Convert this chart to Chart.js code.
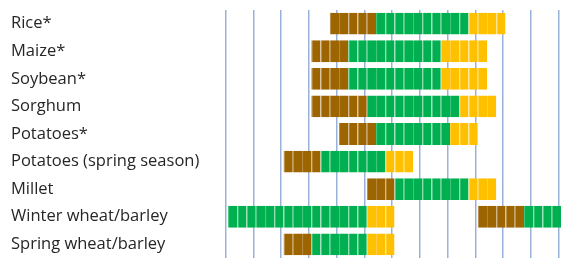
<!DOCTYPE html>
<html>
<head>
<meta charset="utf-8">
<script src="https://cdn.jsdelivr.net/npm/chart.js@4.4.1/dist/chart.umd.min.js"></script>
<style>
  html, body { margin: 0; padding: 0; background: #fff; }
  #wrap { width: 561px; height: 268px; }
</style>
</head>
<body>
<div id="wrap"><canvas id="cal"></canvas></div>
<script>
// crop calendar, in dekads (3 per month, 0 = start of January)
const crops = ['Rice*', 'Maize*', 'Soybean*', 'Sorghum', 'Potatoes*',
    'Potatoes (spring season)', 'Millet', 'Winter wheat/barley', 'Spring wheat/barley'];

// one list of [start, end) ranges per crop
const sowing = [[[11, 16]], [[9, 13]], [[9, 13]], [[9, 15]], [[12, 16]],
    [[6, 10]], [[15, 18]], [[27, 32]], [[6, 9]]];
const growing = [[[16, 26]], [[13, 23]], [[13, 23]], [[15, 25]], [[16, 24]],
    [[10, 17]], [[18, 26]], [[0, 15], [32, 36]], [[9, 15]]];
const harvest = [[[26, 30]], [[23, 28]], [[23, 28]], [[25, 29]], [[24, 27]],
    [[17, 20]], [[26, 29]], [[15, 18]], [[15, 18]]];

const monthCount = 12;
const GRID_SHIFT = -0.27; // month lines sit a little left of dekad edges in the original

// split each range into dekad cells so every dekad gets its own little block
function cells(ranges) {
    const out = [];
    crops.forEach((crop, i) => {
        ranges[i].forEach(([a, b]) => {
            for (let d = a; d < b; d++) out.push({ y: crop, x: [d, d + 1] });
        });
    });
    return out;
}

function stage(label, ranges, fill, line) {
    return {
        label: label,
        data: cells(ranges),
        backgroundColor: fill,
        borderColor: line,
        borderWidth: { left: 1, right: 0, top: 0, bottom: 0 },
        borderSkipped: false,
        grouped: false,
        barPercentage: 0.79,
        categoryPercentage: 1
    };
}

new Chart(document.getElementById('cal'), {
    type: 'bar',
    data: {
        labels: crops,
        datasets: [
            stage('Sowing', sowing, '#9C6500', '#B3843A'),
            stage('Growing', growing, '#00B050', '#3DC57A'),
            stage('Harvest', harvest, '#FFC000', '#FFCF40')
        ]
    },
    options: {
        indexAxis: 'y',
        responsive: true,
        maintainAspectRatio: false,
        animation: false,
        events: [],
        layout: { padding: { left: 11, right: 0, top: 2.7, bottom: 0 } },
        plugins: {
            legend: { display: false },
            tooltip: { enabled: false }
        },
        scales: {
            x: {
                type: 'linear',
                min: -0.35,
                max: 36,
                z: 1,
                afterBuildTicks: (scale) => {
                    const t = [];
                    for (let m = 0; m <= monthCount; m++) t.push({ value: m * 3 + GRID_SHIFT });
                    scale.ticks = t;
                },
                afterFit: (scale) => { scale.height = 0; },
                ticks: { display: false },
                border: { display: false },
                grid: {
                    color: 'rgba(100,135,195,0.65)',
                    lineWidth: 1.5,
                    drawTicks: false
                }
            },
            y: {
                type: 'category',
                labels: crops,
                afterFit: (scale) => { scale.width = 213.8; },
                grid: { display: false },
                border: { display: false },
                ticks: {
                    crossAlign: 'far',
                    padding: 0,
                    labelOffset: 0,
                    color: '#262626',
                    font: { family: 'Open Sans', size: 16.5 }
                }
            }
        }
    }
});
</script>
</body>
</html>
